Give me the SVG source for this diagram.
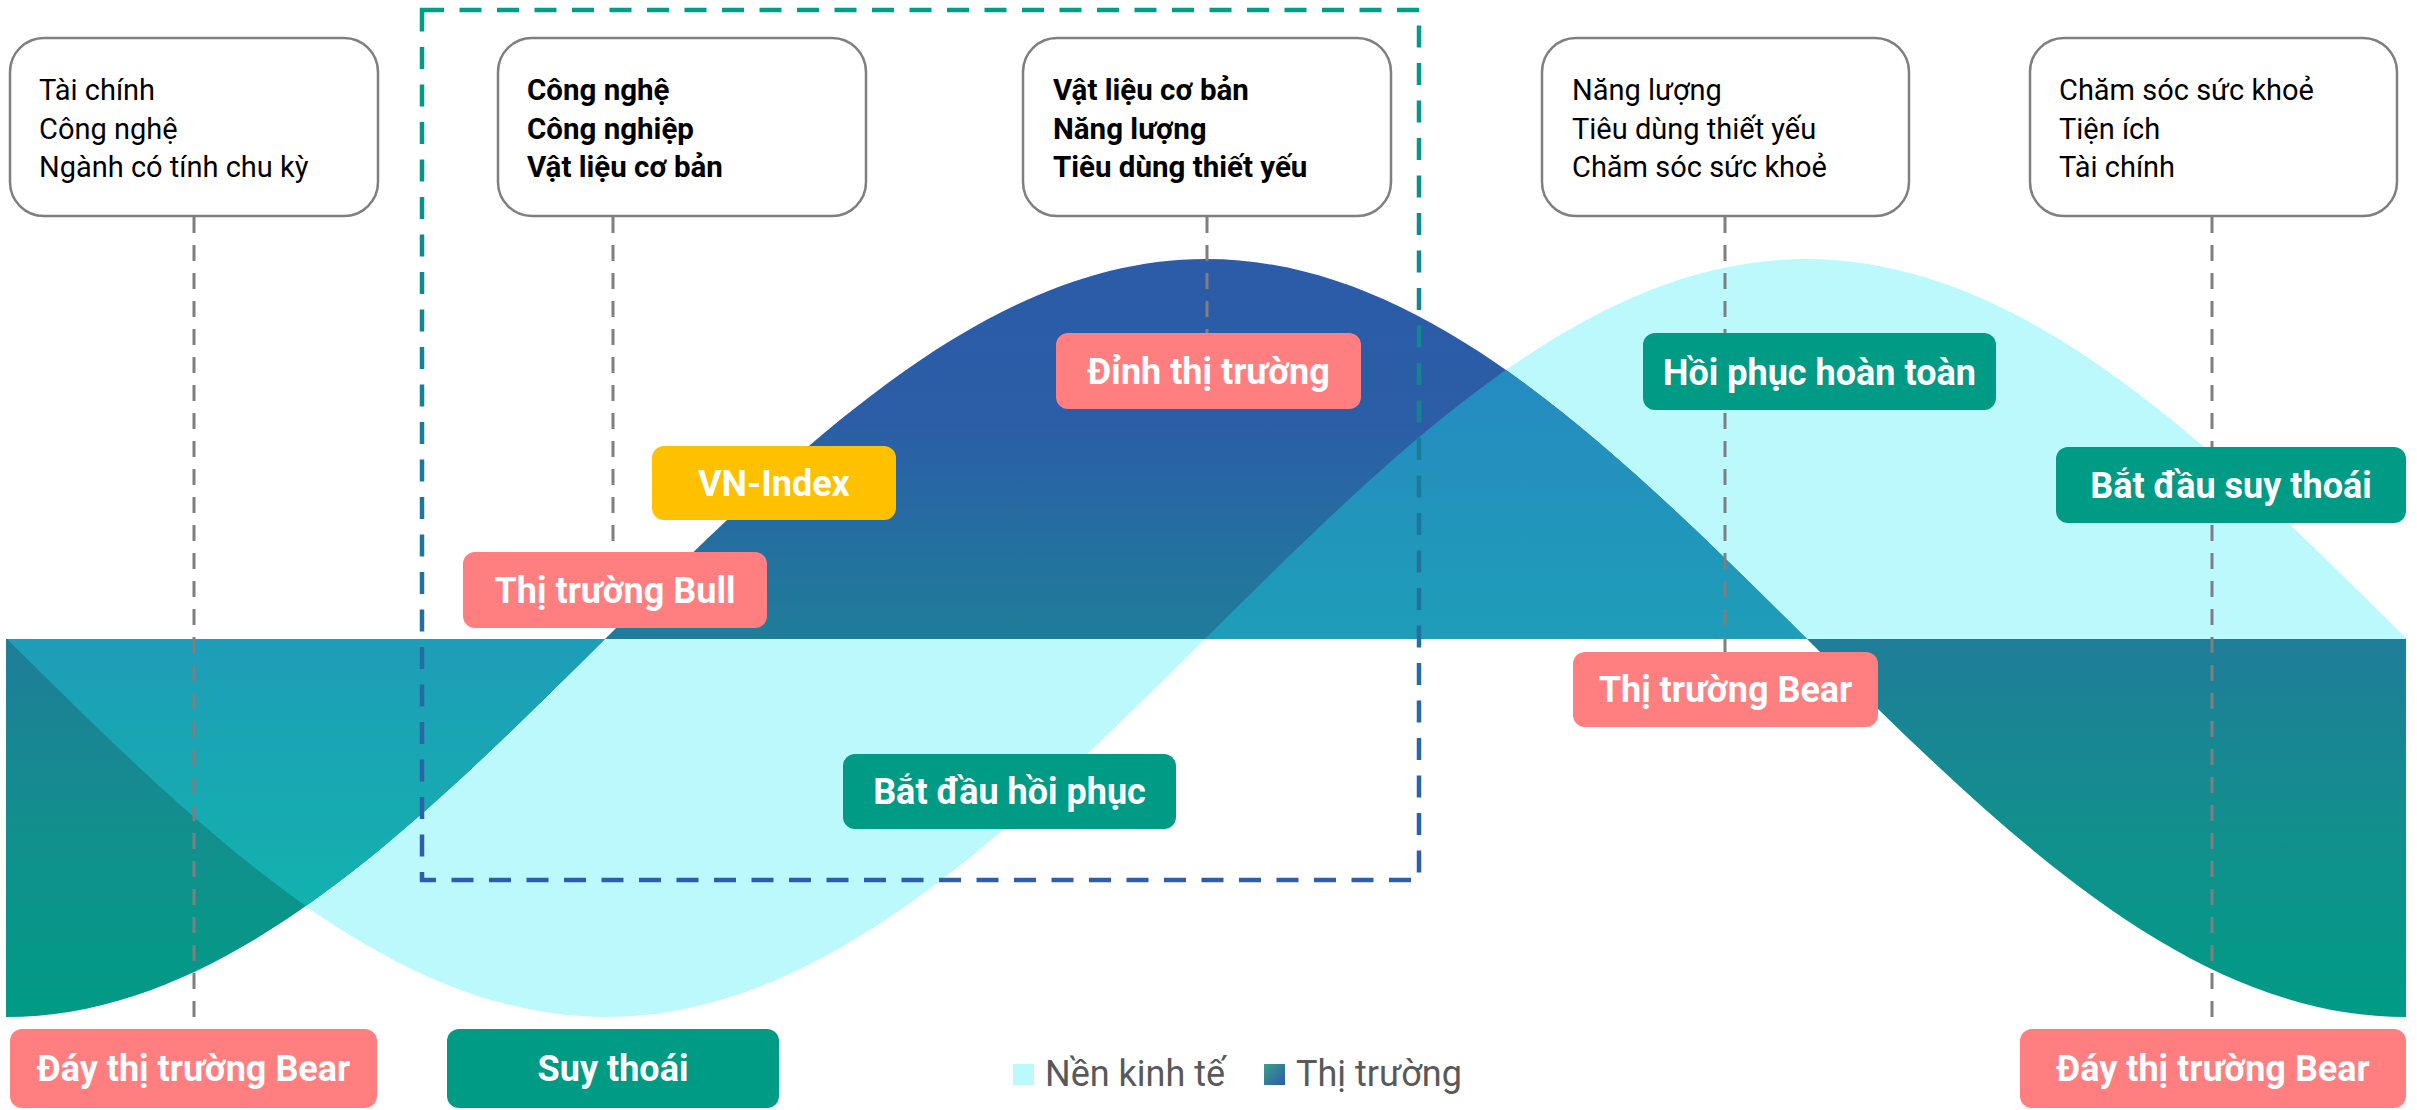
<svg xmlns="http://www.w3.org/2000/svg" width="2417" height="1110" viewBox="0 0 2417 1110">
  <style>
    .box { fill: #ffffff; stroke: #7f7f7f; stroke-width: 2.5; }
    .bt { font-family: Roboto, "Liberation Sans", sans-serif; font-size: 29px; fill: #000000; }
    .bb { font-weight: bold; font-size: 29.5px; }
    .lbl { font-family: Roboto, "Liberation Sans", sans-serif; font-size: 36px; font-weight: bold; fill: #ffffff; text-anchor: middle; }
    .pink { fill: #ff7e80; }
    .teal { fill: #009b85; }
    .yellow { fill: #ffc000; }
    .conn { stroke: #7f7f7f; stroke-width: 3; stroke-dasharray: 16 12; fill: none; }
    .leg { font-family: Roboto, "Liberation Sans", sans-serif; font-size: 36px; fill: #595959; }
  </style>
  <defs>
    <linearGradient id="gMarket" gradientUnits="userSpaceOnUse" x1="0" y1="259" x2="0" y2="1017">
      <stop offset="0" stop-color="#2c5ba8"/>
      <stop offset="0.22" stop-color="#2b5ea7"/>
      <stop offset="0.5" stop-color="#1f7d99"/>
      <stop offset="0.75" stop-color="#128f8d"/>
      <stop offset="1" stop-color="#009b85"/>
    </linearGradient>
    <linearGradient id="gOverlap" gradientUnits="userSpaceOnUse" x1="0" y1="369" x2="0" y2="905">
      <stop offset="0" stop-color="#258bc1"/>
      <stop offset="0.5" stop-color="#1e9db8"/>
      <stop offset="1" stop-color="#12b2ae"/>
    </linearGradient>
    <linearGradient id="gBox" x1="0" y1="0" x2="0" y2="1">
      <stop offset="0" stop-color="#009e86"/>
      <stop offset="1" stop-color="#2f5dab"/>
    </linearGradient>
    <linearGradient id="gLeg" x1="0" y1="0" x2="1" y2="1">
      <stop offset="0" stop-color="#3d9e8a"/>
      <stop offset="1" stop-color="#2b5ca8"/>
    </linearGradient>
    <path id="econ" d="M6,639 L6,638 C201.7,832.2 388.9,1017 606,1017 C823.1,1017 1010.3,832.2 1206,638 C1401.7,443.8 1588.9,259 1806,259 C2023.1,259 2210.3,443.8 2406,638 L2406,639 Z"/>
    <path id="market" d="M6,639 L6,1017 C223.1,1017 410.3,832.2 606,638 C801.7,443.8 988.9,259 1206,259 C1423.1,259 1610.3,443.8 1806,638 C2001.7,832.2 2188.9,1017 2406,1017 L2406,639 Z"/>
    <clipPath id="clipEcon">
      <use href="#econ"/>
    </clipPath>
  </defs>

  <g id="chart">
    <use href="#econ" fill="#bcf9fc"/>
    <use href="#market" fill="url(#gMarket)"/>
    <use href="#market" fill="url(#gOverlap)" clip-path="url(#clipEcon)"/>
  </g>

  <g id="connectors">
    <line class="conn" x1="194" y1="217" x2="194" y2="1029"/>
    <line class="conn" x1="613" y1="217" x2="613" y2="552"/>
    <line class="conn" x1="1207" y1="217" x2="1207" y2="333"/>
    <line class="conn" x1="1725" y1="217" x2="1725" y2="652"/>
    <line class="conn" x1="2212" y1="217" x2="2212" y2="1029"/>
  </g>

  <g id="focus-frame">
    <rect x="422" y="10" width="997" height="870" fill="none" stroke="url(#gBox)" stroke-width="4.5" stroke-dasharray="22 15.5"/>
  </g>

  <g id="box-1">
    <rect class="box" x="10" y="38" width="368" height="178" rx="34"/>
    <text class="bt" x="39" y="100">Tài chính</text>
    <text class="bt" x="39" y="138.5">Công nghệ</text>
    <text class="bt" x="39" y="177">Ngành có tính chu kỳ</text>
  </g>
  <g id="box-2">
    <rect class="box" x="498" y="38" width="368" height="178" rx="34"/>
    <text class="bt bb" x="527" y="100">Công nghệ</text>
    <text class="bt bb" x="527" y="138.5">Công nghiệp</text>
    <text class="bt bb" x="527" y="177">Vật liệu cơ bản</text>
  </g>
  <g id="box-3">
    <rect class="box" x="1023" y="38" width="368" height="178" rx="34"/>
    <text class="bt bb" x="1053" y="100">Vật liệu cơ bản</text>
    <text class="bt bb" x="1053" y="138.5">Năng lượng</text>
    <text class="bt bb" x="1053" y="177">Tiêu dùng thiết yếu</text>
  </g>
  <g id="box-4">
    <rect class="box" x="1542" y="38" width="367" height="178" rx="34"/>
    <text class="bt" x="1572" y="100">Năng lượng</text>
    <text class="bt" x="1572" y="138.5">Tiêu dùng thiết yếu</text>
    <text class="bt" x="1572" y="177">Chăm sóc sức khoẻ</text>
  </g>
  <g id="box-5">
    <rect class="box" x="2030" y="38" width="367" height="178" rx="34"/>
    <text class="bt" x="2059" y="100">Chăm sóc sức khoẻ</text>
    <text class="bt" x="2059" y="138.5">Tiện ích</text>
    <text class="bt" x="2059" y="177">Tài chính</text>
  </g>

  <g id="label-bull">
    <rect class="pink" x="463" y="552" width="304" height="76" rx="12"/>
    <text class="lbl" x="615" y="603">Thị trường Bull</text>
  </g>
  <g id="label-vnindex">
    <rect class="yellow" x="652" y="446" width="244" height="74" rx="12"/>
    <text class="lbl" x="774" y="496">VN-Index</text>
  </g>
  <g id="label-peak">
    <rect class="pink" x="1056" y="333" width="305" height="76" rx="12"/>
    <text class="lbl" x="1208.5" y="384">Đỉnh thị trường</text>
  </g>
  <g id="label-full-recovery">
    <rect class="teal" x="1643" y="333" width="353" height="77" rx="12"/>
    <text class="lbl" x="1819.5" y="385">Hồi phục hoàn toàn</text>
  </g>
  <g id="label-start-recession">
    <rect class="teal" x="2056" y="447" width="350" height="76" rx="12"/>
    <text class="lbl" x="2231" y="498">Bắt đầu suy thoái</text>
  </g>
  <g id="label-bear">
    <rect class="pink" x="1573" y="652" width="305" height="75" rx="12"/>
    <text class="lbl" x="1725.5" y="702">Thị trường Bear</text>
  </g>
  <g id="label-start-recovery">
    <rect class="teal" x="843" y="754" width="333" height="75" rx="12"/>
    <text class="lbl" x="1009.5" y="804">Bắt đầu hồi phục</text>
  </g>
  <g id="label-recession">
    <rect class="teal" x="447" y="1029" width="332" height="79" rx="12"/>
    <text class="lbl" x="613" y="1081">Suy thoái</text>
  </g>
  <g id="label-bear-bottom-left">
    <rect class="pink" x="10" y="1029" width="367" height="79" rx="12"/>
    <text class="lbl" x="193.5" y="1081">Đáy thị trường Bear</text>
  </g>
  <g id="label-bear-bottom-right">
    <rect class="pink" x="2020" y="1029" width="386" height="79" rx="12"/>
    <text class="lbl" x="2213" y="1081">Đáy thị trường Bear</text>
  </g>

  <g id="legend">
    <rect x="1013" y="1064" width="21" height="21" fill="#bcf9fc"/>
    <text class="leg" x="1045" y="1086">Nền kinh tế</text>
    <rect x="1264" y="1064" width="21" height="21" fill="url(#gLeg)"/>
    <text class="leg" x="1296" y="1086">Thị trường</text>
  </g>
</svg>
